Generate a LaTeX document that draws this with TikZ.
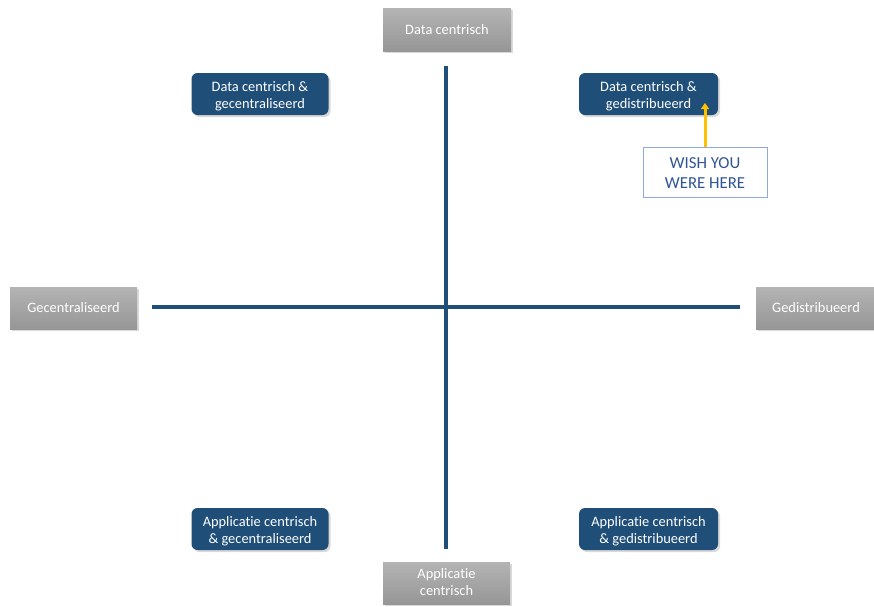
\documentclass[tikz,border=0pt]{standalone}
\usepackage{fontspec}
\setmainfont[Ligatures=NoCommon]{Carlito}
\usetikzlibrary{shadows,arrows.meta}
\definecolor{navy}{HTML}{1F4E79}
\definecolor{graytop}{HTML}{B4B4B4}
\definecolor{graybot}{HTML}{969696}
\definecolor{wishborder}{HTML}{8FAADC}
\definecolor{wishtext}{HTML}{2F5597}
\definecolor{arrowyellow}{HTML}{FFC000}
\tikzset{
  axisbox/.style={rectangle, top color=graytop, bottom color=graybot, text=white,
    font=\fontsize{14.4}{17}\selectfont, align=center, inner sep=0pt,
    drop shadow={shadow xshift=2pt, shadow yshift=-2pt, opacity=0.25, fill=black!60}},
  quadbox/.style={rectangle, rounded corners=6pt, fill=navy, text=white,
    font=\fontsize{14.4}{17}\selectfont, align=center, inner sep=0pt,
    minimum width=137pt, minimum height=42pt, text height=28pt, text depth=0pt,
    drop shadow={shadow xshift=2pt, shadow yshift=-2pt, opacity=0.25, fill=black!60}},
  wishbox/.style={rectangle, draw=wishborder, line width=0.8pt, fill=white, text=wishtext,
    font=\fontsize{16.8}{20}\selectfont, align=center, inner sep=0pt,
    minimum width=124pt, minimum height=50pt, text height=32pt, text depth=0pt},
  axisline/.style={draw=navy, line width=4pt},
  wisharrow/.style={draw=arrowyellow, line width=3pt, -{Triangle[length=6pt,width=8pt]}}
}
\begin{document}
\begin{tikzpicture}[x=1pt,y=-1pt]
\useasboundingbox (0,0) rectangle (874,606);
% axes
\coordinate (vtop) at (446,66);
\coordinate (vbot) at (446,549);
\coordinate (hl) at (152,307);
\coordinate (hr) at (740,307);
\draw[axisline] (vtop) -- (vbot);
\draw[axisline] (hl) -- (hr);
% axis labels
\node[axisbox, minimum width=128pt, minimum height=43pt] (top) at (447,29.5) {Data centrisch};
\node[axisbox, minimum width=127pt, minimum height=42pt] (left) at (73.5,308) {Gecentraliseerd};
\node[axisbox, minimum width=120pt, minimum height=42pt] (right) at (816,308) {Gedistribueerd};
\node[axisbox, minimum width=127pt, minimum height=42pt, text height=24pt, text depth=0pt] (bottom) at (446.5,583) {Applicatie\\centrisch};
% quadrant boxes
\node[quadbox] (dcg) at (260,94) {Data centrisch \&\\gecentraliseerd};
\node[quadbox, minimum width=139pt] (dcd) at (648.5,94) {Data centrisch \&\\gedistribueerd};
\node[quadbox] (acg) at (260,529) {Applicatie centrisch\\\& gecentraliseerd};
\node[quadbox, minimum width=139pt] (acd) at (648.5,529) {Applicatie centrisch\\\& gedistribueerd};
% wish
\node[wishbox] (wish) at (705,172) {WISH YOU\\WERE HERE};
\coordinate (arrowtip) at (705,103);
\draw[wisharrow] (wish.north) -- (arrowtip);
\end{tikzpicture}
\end{document}
